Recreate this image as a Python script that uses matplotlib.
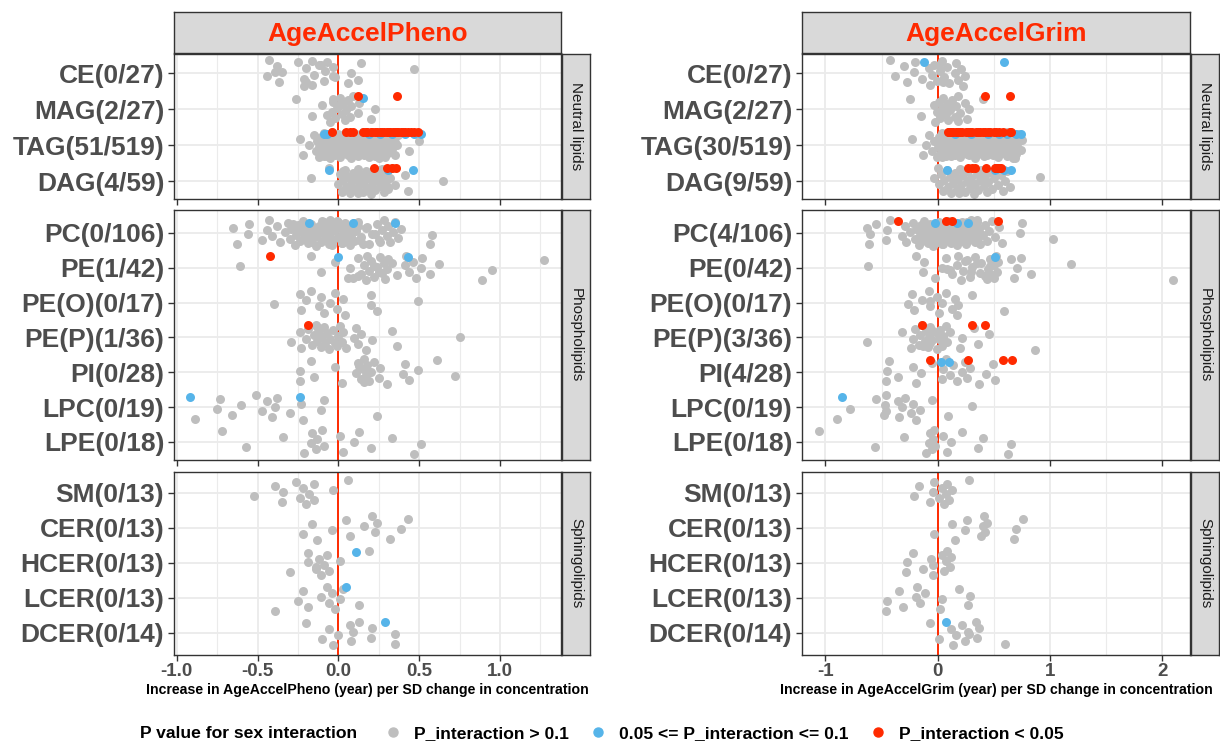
import numpy as np
import matplotlib.pyplot as plt
from matplotlib.lines import Line2D

plt.rcParams['font.family'] = ['Liberation Sans', 'DejaVu Sans']
plt.rcParams['axes.unicode_minus'] = False

# lipid classes, grouped the way the facets are
groups = ["Neutral lipids", "Phospholipids", "Sphingolipids"]
group_classes = [
    ["CE", "MAG", "TAG", "DAG"],
    ["PC", "PE", "PE(O)", "PE(P)", "PI", "LPC", "LPE"],
    ["SM", "CER", "HCER", "LCER", "DCER"],
]
classes = [c for g in group_classes for c in g]
n_total = [27, 27, 519, 59, 106, 42, 17, 36, 28, 19, 18, 13, 13, 13, 13, 14]
pheno_sig = [0, 2, 51, 4, 0, 1, 0, 1, 0, 0, 0, 0, 0, 0, 0, 0]
grim_sig = [0, 2, 30, 9, 4, 0, 0, 3, 4, 0, 0, 0, 0, 0, 0, 0]

# estimates (year per SD), P_interaction > 0.1
pheno_grey = {
    "CE": [-0.43, -0.44, -0.38, -0.37, -0.35, -0.25, -0.21, -0.20, -0.16, -0.15, -0.12, -0.09, -0.08, -0.16,
           -0.02, -0.03, 0.06, 0.08, 0.14, 0.12, 0.47, -0.21, -0.03, -0.11, -0.20, -0.39, -0.07],
    "MAG": [-0.26, -0.16, -0.10, -0.05, -0.04, -0.03, -0.02, -0.01, 0.01, 0.02, 0.03, 0.04, 0.05, 0.06, 0.07,
            0.08, 0.09, 0.12, 0.13, 0.20, 0.23, -0.03, -0.07, 0.01],
    "TAG": [-0.24, -0.22, -0.18, -0.15, -0.14, -0.13, -0.12, -0.12, -0.11, -0.10, -0.10, -0.09, -0.08, -0.08,
            -0.07, -0.06, -0.06, -0.05, -0.04, -0.04, -0.03, -0.02, -0.02, -0.01, 0.00, 0.00, 0.01, 0.01, 0.02,
            0.03, 0.03, 0.04, 0.04, 0.05, 0.05, 0.06, 0.06, 0.07, 0.07, 0.08, 0.08, 0.09, 0.09, 0.10, 0.10, 0.11,
            0.11, 0.12, 0.12, 0.13, 0.13, 0.14, 0.14, 0.15, 0.15, 0.16, 0.16, 0.17, 0.17, 0.18, 0.18, 0.19, 0.19,
            0.20, 0.20, 0.21, 0.21, 0.22, 0.22, 0.23, 0.23, 0.24, 0.24, 0.25, 0.25, 0.26, 0.26, 0.27, 0.27, 0.28,
            0.28, 0.29, 0.29, 0.30, 0.30, 0.31, 0.31, 0.32, 0.33, 0.34, 0.35, 0.36, 0.37, 0.44, 0.50, -0.05, 0.02,
            0.08, 0.13, 0.18, 0.23, 0.27, 0.32, -0.09, 0.05, 0.15, 0.25, 0.35],
    "DAG": [-0.17, -0.06, 0.00, 0.01, 0.02, 0.03, 0.04, 0.05, 0.06, 0.07, 0.08, 0.09, 0.10, 0.11, 0.12, 0.13,
            0.14, 0.15, 0.16, 0.17, 0.18, 0.19, 0.20, 0.21, 0.22, 0.23, 0.24, 0.25, 0.26, 0.27, 0.28, 0.29, 0.30,
            0.31, 0.32, 0.33, 0.35, 0.41, 0.43, 0.65, 0.03, 0.06, 0.09, 0.12, 0.15, 0.18, 0.21, 0.24, 0.27, 0.30,
            0.11, 0.02],
    "PC": [-0.65, -0.63, -0.56, -0.55, -0.47, -0.44, -0.43, -0.41, -0.38, -0.36, -0.33, -0.31, -0.30, -0.29,
           -0.27, -0.26, -0.25, -0.24, -0.23, -0.22, -0.21, -0.20, -0.19, -0.18, -0.17, -0.16, -0.15, -0.14, -0.13,
           -0.12, -0.11, -0.10, -0.09, -0.08, -0.07, -0.06, -0.05, -0.04, -0.03, -0.02, -0.01, 0.00, 0.01, 0.02,
           0.03, 0.04, 0.05, 0.06, 0.07, 0.08, 0.09, 0.10, 0.11, 0.12, 0.14, 0.17, 0.19, 0.21, 0.24, 0.25, 0.27,
           0.28, 0.30, 0.31, 0.32, 0.34, 0.35, 0.37, 0.39, 0.57, 0.58, -0.22, -0.18, -0.14, -0.10, -0.06, -0.02,
           0.02, 0.06, 0.10, -0.20, -0.12, -0.04, 0.04, 0.12, -0.16, -0.08, 0.00, 0.08, -0.26, 0.15, 0.23, -0.28,
           0.13, 0.03, -0.05, -0.15, 0.18, 0.26, 0.05, -0.09, -0.19, 0.09],
    "PE": [-0.61, -0.17, -0.11, -0.02, 0.06, 0.07, 0.12, 0.14, 0.16, 0.17, 0.19, 0.20, 0.22, 0.24, 0.26, 0.27,
           0.28, 0.29, 0.30, 0.31, 0.36, 0.41, 0.42, 0.44, 0.46, 0.48, 0.51, 0.52, 0.57, 0.62, 0.89, 0.95, 1.27,
           0.12, 0.22, 0.18, 0.25, 0.33, 0.09],
    "PE(O)": [-0.40, -0.24, -0.23, -0.20, -0.17, -0.12, -0.11, -0.09, -0.05, -0.02, -0.01, 0.03, 0.04, 0.20,
              0.20, 0.24, 0.49],
    "PE(P)": [-0.29, -0.24, -0.23, -0.20, -0.19, -0.16, -0.15, -0.14, -0.13, -0.12, -0.11, -0.10, -0.09, -0.08,
              -0.07, -0.06, -0.05, -0.03, -0.01, 0.00, 0.01, 0.02, 0.03, 0.05, 0.10, 0.11, 0.12, 0.14, 0.17, 0.21,
              0.33, 0.36, 0.75, -0.13, -0.02],
    "PI": [-0.24, -0.24, -0.17, -0.15, -0.02, 0.02, 0.11, 0.12, 0.14, 0.15, 0.16, 0.17, 0.18, 0.19, 0.20, 0.22,
           0.25, 0.26, 0.30, 0.40, 0.41, 0.44, 0.49, 0.61, 0.72, 0.13, 0.16, 0.18],
    "LPC": [-0.89, -0.75, -0.73, -0.66, -0.60, -0.51, -0.47, -0.44, -0.41, -0.39, -0.38, -0.30, -0.23, -0.22,
            -0.11, -0.09, 0.24],
    "LPE": [-0.72, -0.57, -0.34, -0.21, -0.17, -0.16, -0.14, -0.13, -0.10, -0.09, 0.01, 0.03, 0.10, 0.13, 0.20,
            0.33, 0.47, 0.51],
    "SM": [-0.52, -0.39, -0.35, -0.34, -0.26, -0.24, -0.22, -0.20, -0.18, -0.15, -0.15, -0.03, 0.06],
    "CER": [-0.22, -0.16, -0.13, -0.04, 0.05, 0.07, 0.16, 0.21, 0.23, 0.24, 0.32, 0.39, 0.43],
    "HCER": [-0.30, -0.19, -0.19, -0.14, -0.12, -0.11, -0.09, -0.07, -0.06, 0.01, 0.19, -0.14],
    "LCER": [-0.39, -0.25, -0.22, -0.19, -0.11, -0.07, -0.06, -0.04, -0.02, 0.01, 0.03, 0.13],
    "DCER": [-0.20, -0.10, -0.06, -0.03, 0.00, 0.07, 0.08, 0.09, 0.13, 0.20, 0.21, 0.35, 0.35],
}
# 0.05 <= P_interaction <= 0.1
pheno_blue = {
    "MAG": [0.15], "TAG": [-0.09, -0.07, 0.19, 0.26, 0.33, 0.41, 0.47, 0.51], "DAG": [-0.06, 0.31, 0.46],
    "PC": [-0.18, 0.09, 0.35], "PE": [0.00, 0.43], "LPC": [-0.92, -0.24],
    "HCER": [0.11], "LCER": [0.05], "DCER": [0.29],
}
# P_interaction < 0.05
pheno_red = {
    "MAG": [0.12, 0.36],
    "TAG": [-0.04, 0.05, 0.07, 0.09, 0.15, 0.17, 0.18, 0.20, 0.21, 0.23, 0.24, 0.26, 0.27, 0.28, 0.30, 0.31,
            0.32, 0.34, 0.35, 0.36, 0.37, 0.39, 0.40, 0.41, 0.43, 0.45, 0.47, 0.49],
    "DAG": [0.22, 0.30, 0.33, 0.355], "PE": [-0.42], "PE(P)": [-0.19],
}

grim_grey = {
    "CE": [-0.42, -0.38, -0.30, -0.27, -0.21, -0.20, -0.14, -0.08, -0.07, -0.05, -0.03, -0.01, 0.02, 0.04, 0.06,
           0.08, 0.10, 0.15, 0.16, 0.18, 0.21, 0.23, 0.24, 0.01, 0.05],
    "MAG": [-0.25, -0.15, -0.03, -0.02, -0.01, 0.01, 0.02, 0.04, 0.05, 0.07, 0.08, 0.09, 0.11, 0.13, 0.15, 0.16,
            0.18, 0.20, 0.24, 0.26, 0.28, 0.40, 0.02, 0.10, 0.18],
    "TAG": [-0.23, -0.13, -0.10, -0.08, -0.05, -0.03, -0.01, 0.00, 0.01, 0.02, 0.03, 0.04, 0.05, 0.06, 0.07,
            0.08, 0.09, 0.10, 0.11, 0.12, 0.13, 0.14, 0.15, 0.16, 0.17, 0.18, 0.19, 0.20, 0.21, 0.22, 0.23, 0.24,
            0.25, 0.26, 0.27, 0.28, 0.29, 0.30, 0.31, 0.32, 0.33, 0.34, 0.35, 0.36, 0.37, 0.38, 0.39, 0.40, 0.41,
            0.42, 0.43, 0.44, 0.45, 0.46, 0.47, 0.48, 0.49, 0.50, 0.51, 0.52, 0.53, 0.54, 0.55, 0.56, 0.57, 0.58,
            0.59, 0.60, 0.61, 0.62, 0.63, 0.64, 0.65, 0.66, 0.67, 0.68, 0.69, 0.70, 0.71, 0.72, 0.74, 0.75, 0.04,
            0.09, 0.14, 0.19, 0.24, 0.29, 0.34, 0.39, 0.44, 0.49, 0.54, 0.59, 0.64, 0.69, 0.06, 0.16, 0.26, 0.36,
            0.46, 0.56, 0.66, 0.12, 0.22, 0.32, 0.42, 0.52, 0.62],
    "DAG": [-0.03, 0.00, 0.01, 0.03, 0.05, 0.06, 0.08, 0.09, 0.11, 0.12, 0.14, 0.15, 0.17, 0.18, 0.20, 0.21,
            0.23, 0.24, 0.26, 0.27, 0.29, 0.30, 0.32, 0.33, 0.35, 0.36, 0.38, 0.39, 0.41, 0.42, 0.44, 0.45, 0.47,
            0.48, 0.50, 0.52, 0.54, 0.56, 0.58, 0.60, 0.62, 0.64, 0.91, 0.19, 0.28, 0.40],
    "PC": [-0.63, -0.61, -0.60, -0.55, -0.46, -0.45, -0.42, -0.32, -0.29, -0.28, -0.25, -0.22, -0.20, -0.19,
           -0.17, -0.16, -0.15, -0.14, -0.13, -0.12, -0.11, -0.10, -0.09, -0.08, -0.07, -0.06, -0.05, -0.04, -0.03,
           -0.02, -0.01, 0.00, 0.01, 0.02, 0.03, 0.04, 0.05, 0.06, 0.07, 0.08, 0.09, 0.10, 0.11, 0.12, 0.13, 0.14,
           0.15, 0.16, 0.17, 0.18, 0.19, 0.20, 0.21, 0.22, 0.23, 0.24, 0.25, 0.26, 0.27, 0.28, 0.29, 0.30, 0.31,
           0.32, 0.33, 0.34, 0.35, 0.36, 0.37, 0.38, 0.40, 0.42, 0.44, 0.46, 0.48, 0.51, 0.55, 0.57, 0.73, 0.75,
           1.03, -0.10, -0.04, 0.02, 0.08, 0.14, 0.20, 0.26, 0.32, -0.07, 0.05, 0.11, 0.17, 0.23, 0.29, 0.35, 0.00,
           0.12, 0.24],
    "PE": [-0.62, -0.19, -0.13, -0.12, -0.02, 0.04, 0.07, 0.13, 0.17, 0.21, 0.23, 0.24, 0.29, 0.31, 0.33, 0.38,
           0.39, 0.44, 0.45, 0.47, 0.48, 0.50, 0.52, 0.53, 0.54, 0.68, 0.71, 0.74, 0.83, 1.19, 2.10, 0.11, 0.26,
           0.42, 0.47, 0.18, 0.30, 0.35, 0.50, 0.08, 0.65],
    "PE(O)": [-0.26, -0.23, -0.21, -0.14, -0.08, -0.07, -0.01, 0.01, 0.04, 0.07, 0.13, 0.15, 0.17, 0.18, 0.31,
              0.59, -0.07],
    "PE(P)": [-0.63, -0.32, -0.24, -0.22, -0.20, -0.17, -0.16, -0.14, -0.11, -0.10, -0.09, -0.08, -0.07, -0.07,
              -0.01, -0.01, 0.01, 0.02, 0.04, 0.05, 0.07, 0.08, 0.11, 0.20, 0.22, 0.32, 0.36, 0.46, 0.87, -0.05,
              -0.04, -0.13, 0.05],
    "PI": [-0.46, -0.45, -0.43, -0.35, -0.22, -0.19, -0.15, -0.05, 0.04, 0.05, 0.07, 0.11, 0.14, 0.17, 0.22,
           0.24, 0.26, 0.29, 0.37, 0.43, 0.49, 0.51],
    "LPC": [-0.90, -0.78, -0.55, -0.48, -0.47, -0.46, -0.46, -0.35, -0.34, -0.32, -0.29, -0.24, -0.22, -0.19,
            -0.16, -0.05, 0.09, 0.31],
    "LPE": [-1.06, -0.56, -0.30, -0.10, -0.08, -0.07, -0.05, -0.04, -0.03, -0.02, 0.05, 0.08, 0.12, 0.22, 0.36,
            0.40, 0.63, 0.65],
    "SM": [-0.21, -0.17, -0.07, -0.04, -0.03, 0.01, 0.04, 0.06, 0.07, 0.08, 0.10, 0.13, 0.28],
    "CER": [-0.03, 0.13, 0.15, 0.24, 0.26, 0.39, 0.40, 0.41, 0.42, 0.44, 0.68, 0.70, 0.76],
    "HCER": [-0.28, -0.27, -0.22, -0.13, -0.06, -0.04, -0.04, 0.04, 0.06, 0.07, 0.08, 0.11, 0.12],
    "LCER": [-0.46, -0.45, -0.34, -0.31, -0.19, -0.18, -0.16, -0.11, 0.02, 0.04, 0.19, 0.27, 0.29],
    "DCER": [-0.07, 0.01, 0.12, 0.14, 0.16, 0.22, 0.24, 0.27, 0.34, 0.35, 0.37, 0.60, 0.28],
}
grim_blue = {
    "CE": [-0.125, 0.595], "TAG": [0.15, 0.30, 0.45, 0.55, 0.62, 0.70, 0.74], "DAG": [0.08, 0.51, 0.59, 0.65],
    "PC": [-0.02, 0.17, 0.27], "PE": [0.51], "PI": [0.03, 0.10], "LPC": [-0.85], "DCER": [0.07],
}
grim_red = {
    "MAG": [0.42, 0.64],
    "TAG": [0.09, 0.10, 0.12, 0.14, 0.16, 0.18, 0.20, 0.22, 0.25, 0.27, 0.29, 0.31, 0.34, 0.36, 0.38, 0.40,
            0.42, 0.45, 0.47, 0.50, 0.52, 0.55, 0.58, 0.64, 0.65],
    "DAG": [0.27, 0.31, 0.33, 0.43, 0.51, 0.52, 0.54, 0.55, 0.56],
    "PC": [-0.35, 0.07, 0.13, 0.54], "PE(P)": [-0.14, 0.31, 0.42], "PI": [-0.07, 0.27, 0.58, 0.66],
}

GREY, BLUE, RED = "#BEBEBE", "#56B4E9", "#FF2A00"
TXT = "#4D4D4D"
W, H = 1220, 743

fig = plt.figure(figsize=(W / 100, H / 100), dpi=100)


def box(x0, y0, x1, y1):
    return [x0 / W, 1 - y1 / H, (x1 - x0) / W, (y1 - y0) / H]


def jitter(n, seed, amp=0.37):
    k = np.arange(n)
    return (((k * 0.618034 + seed) % 1.0) * 2 - 1) * amp


rows_px = [(54, 199), (210, 460), (472, 655)]
row_lims = [(3.5, -0.53), (6.52, -0.66), (4.63, -0.6)]
PT = 42  # marker area

panels = [
    dict(name="AgeAccelPheno", x=(174, 561), xlim=(-1.017, 1.378), sig=pheno_sig,
         grey=pheno_grey, blue=pheno_blue, red=pheno_red,
         major=[-1.0, -0.5, 0.0, 0.5, 1.0], minor=[-0.75, -0.25, 0.25, 0.75, 1.25],
         ticklabels=["-1.0", "-0.5", "0.0", "0.5", "1.0"]),
    dict(name="AgeAccelGrim", x=(802, 1190), xlim=(-1.208, 2.247), sig=grim_sig,
         grey=grim_grey, blue=grim_blue, red=grim_red,
         major=[-1, 0, 1, 2], minor=[-0.5, 0.5, 1.5],
         ticklabels=["-1", "0", "1", "2"]),
]

for p in panels:
    x0, x1 = p["x"]
    # top strip
    st = fig.add_axes(box(x0, 12, x1, 53))
    st.set_facecolor("#D9D9D9")
    st.set_xticks([]); st.set_yticks([])
    for s in st.spines.values():
        s.set_color("#333333"); s.set_linewidth(1.0)
    st.text(0.5, 0.47, p["name"], ha="center", va="center", color=RED,
            fontsize=19, fontweight="bold", transform=st.transAxes)

    start = 0
    for r, (gname, cls) in enumerate(zip(groups, group_classes)):
        y0, y1 = rows_px[r]
        ax = fig.add_axes(box(x0, y0, x1, y1))
        ax.set_xlim(*p["xlim"])
        ax.set_ylim(*row_lims[r])
        ax.set_xticks(p["major"])
        ax.set_xticks(p["minor"], minor=True)
        ax.set_yticks(range(len(cls)))
        labels = [f"{c}({p['sig'][start + i]}/{n_total[start + i]})" for i, c in enumerate(cls)]
        ax.set_yticklabels(labels, fontsize=19, fontweight="bold", color=TXT)
        ax.grid(True, which="major", color="#EBEBEB", lw=1.3, zorder=0)
        ax.grid(True, which="minor", axis="x", color="#EBEBEB", lw=0.8, zorder=0)
        ax.set_axisbelow(True)
        ax.tick_params(axis="both", which="major", length=4, width=1, color="#333333", pad=3)
        ax.tick_params(axis="x", which="minor", length=0)
        for s in ax.spines.values():
            s.set_color("#333333"); s.set_linewidth(1.0)
        if r == 2:
            ax.set_xticklabels(p["ticklabels"], fontsize=13.5, fontweight="bold", color=TXT)
            ax.tick_params(axis="x", pad=1.5)
        else:
            ax.set_xticklabels([])

        ax.axvline(0, color=RED, lw=1.4, zorder=1)
        for i, c in enumerate(cls):
            g = p["grey"].get(c, [])
            ax.scatter(g, i + jitter(len(g), 0.13 * i + 0.3 * r), s=PT, color=GREY,
                       linewidths=0, zorder=2)
            b = p["blue"].get(c, [])
            ax.scatter(b, np.full(len(b), i - 0.30), s=PT, color=BLUE, linewidths=0, zorder=3)
            rd = p["red"].get(c, [])
            ax.scatter(rd, np.full(len(rd), i - 0.35), s=PT, color=RED, linewidths=0, zorder=4)

        # right strip
        rs = fig.add_axes(box(x1 + 1, y0, x1 + 29, y1))
        rs.set_facecolor("#D9D9D9")
        rs.set_xticks([]); rs.set_yticks([])
        for s in rs.spines.values():
            s.set_color("#333333"); s.set_linewidth(1.0)
        rs.text(0.5, 0.5, gname, rotation=270, ha="center", va="center", fontsize=11,
                color="#1A1A1A", transform=rs.transAxes)
        start += len(cls)

    fig.text((x0 + x1) / 2 / W, 1 - 690 / H,
             f"Increase in {p['name']} (year) per SD change in concentration",
             ha="center", va="center", fontsize=10.2, fontweight="bold", color="black")

# legend
fig.text(140 / W, 1 - 733 / H, "P value for sex interaction", ha="left", va="center",
         fontsize=12.6, fontweight="bold")
handles = [Line2D([], [], marker="o", ls="", color=c, markersize=6.5) for c in (GREY, BLUE, RED)]
leg = fig.legend(handles, ["P_interaction > 0.1", "0.05 <= P_interaction <= 0.1", "P_interaction < 0.05"],
                 loc="center left", bbox_to_anchor=(375 / W, 1 - 733 / H), ncol=3, frameon=False,
                 prop=dict(size=12.6, weight="bold"), handletextpad=0.6, columnspacing=1.1,
                 handlelength=1.2, borderaxespad=0)

fig.savefig("out.png", dpi=100)
